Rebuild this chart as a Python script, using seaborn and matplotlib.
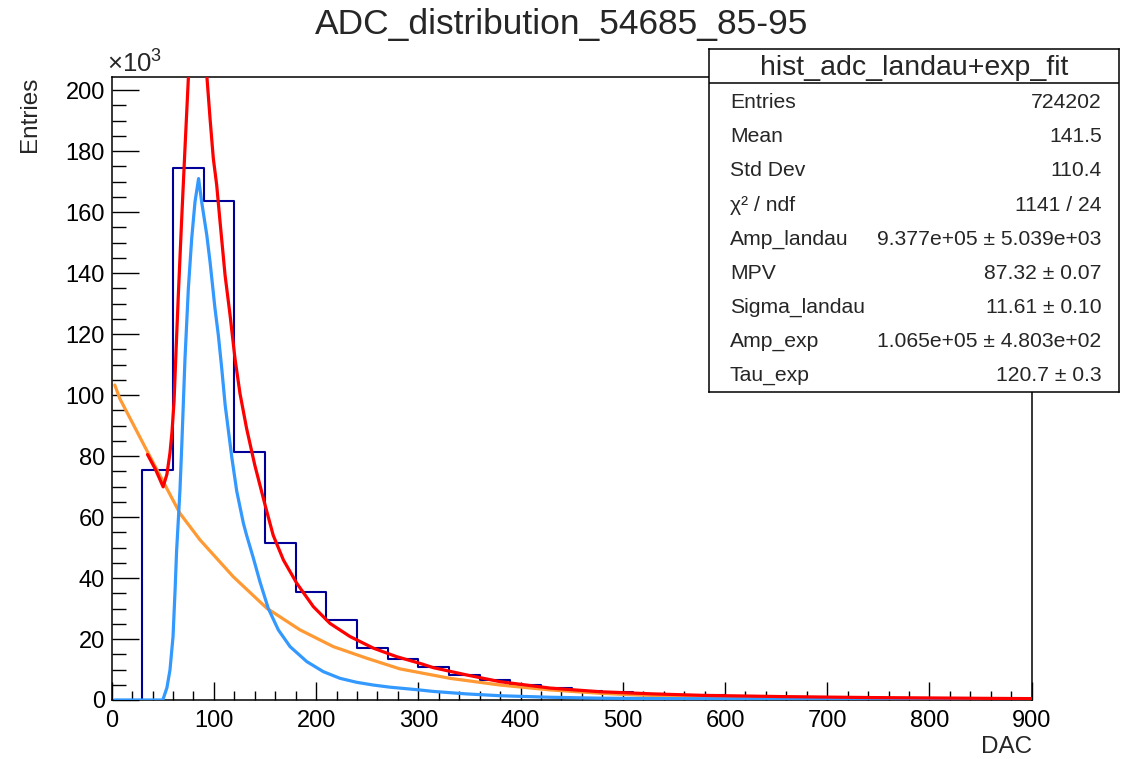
import numpy as np
import pandas as pd
import matplotlib
matplotlib.use("Agg")
import matplotlib.pyplot as plt
from matplotlib.ticker import MultipleLocator
import seaborn as sns

# ---------------- data ----------------
title = "ADC_distribution_54685_85-95"
x_label = "DAC"
y_label = "Entries"

bin_edges = list(range(0, 901, 30))
hist_counts_k = [0.0, 75.4, 174.6, 163.8, 81.3, 51.6, 35.3, 26.2, 16.9, 13.3,
                 10.7, 8.2, 6.5, 4.9, 4.0, 3.0, 2.6, 2.1, 1.8, 1.5,
                 1.3, 1.1, 0.9, 0.8, 0.7, 0.6, 0.5, 0.5, 0.4, 0.4]

landau_x = [3, 50, 54, 57, 60, 62, 63.5, 65, 66.8, 68.5, 70, 71.7, 75, 78.3, 81.5,
            85, 88, 93, 96.2, 101, 104.3, 107.6, 111, 117.4, 122.3, 128.8, 132,
            138.6, 145, 153.2, 163, 174.5, 190.8, 207, 223.4, 239.7, 256, 272.3,
            298, 315, 347, 380, 429, 478, 517, 580, 650, 720, 800, 900]
landau_y = [0, 0, 4, 9.8, 20.8, 36, 49, 58, 69, 83, 96.5, 112, 135, 151.5, 163.4,
            171, 163.4, 152.5, 143.7, 128.5, 119.7, 108.9, 96.7, 79.8, 68.5, 58, 54,
            46.5, 38.8, 30, 23, 17.5, 12.6, 9.3, 7.1, 5.8, 4.9, 4.2,
            3.4, 2.8, 2.0, 1.4, 0.9, 0.6, 0.5, 0.4, 0.35, 0.3, 0.25, 0.2]

exp_x = [3, 8, 37.5, 66.8, 86.4, 119, 151.7, 184.2, 216.8, 249.5, 282, 331, 380,
         429, 478, 517, 580, 640, 700, 760, 830, 900]
exp_y = [103.3, 98.8, 79.8, 61.2, 52.5, 40.4, 30.1, 23, 17.5, 13.7, 10.2, 7.1, 4.9,
         3.3, 2.2, 1.6, 1.1, 0.65, 0.45, 0.3, 0.2, 0.1]

total_x = [35, 43, 50.3, 54, 57, 59, 61, 63, 65.2, 68.5, 71.7, 75, 80, 85, 90, 93,
           96.2, 99.4, 102.7, 106, 110.9, 115.8, 120.6, 125.5, 132, 140, 145, 150,
           158, 168, 181, 197.3, 213.6, 233.2, 256, 278.8, 301.7, 314.7, 347.4,
           380, 429, 478, 530, 580, 660, 743, 852, 900]
total_y = [80.5, 75.5, 69.9, 74, 81, 88, 98, 115, 133, 158, 181, 204, 218, 222, 214, 205,
           190.7, 177.6, 168.9, 156.8, 139.3, 126.2, 112, 100.5, 89, 77, 70.5, 64,
           54, 45.9, 38.3, 30.6, 25.1, 20.8, 17, 14.2, 12.0, 10.6, 8.2,
           6.0, 3.9, 2.7, 2.0, 1.5, 1.1, 0.8, 0.55, 0.45]

stats_title = "hist_adc_landau+exp_fit"
stats_names = ["Entries", "Mean", "Std Dev", "\u03c7\u00b2 / ndf", "Amp_landau",
               "MPV", "Sigma_landau", "Amp_exp", "Tau_exp"]
stats_values = ["724202", "141.5", "110.4", "1141 / 24",
                "9.377e+05 \u00b1 5.039e+03", "87.32 \u00b1 0.07",
                "11.61 \u00b1 0.10", "1.065e+05 \u00b1 4.803e+02", "120.7 \u00b1 0.3"]

# ---------------- style ----------------
sns.set_style("ticks")
plt.rcParams["font.family"] = ["Liberation Sans", "DejaVu Sans"]
plt.rcParams["mathtext.fontset"] = "custom"
plt.rcParams["mathtext.rm"] = "Liberation Sans"

W, H = 1122, 759
def fx(px):
    return px / W
def fy(py):
    return 1 - py / H

NAVY = "#000099"
LBLUE = "#3399ff"
ORANGE = "#ff9933"
RED = "#ff0000"

fig = plt.figure(figsize=(W / 100, H / 100), dpi=100, facecolor="white")
ax_l, ax_r, ax_t, ax_b = 111.7, 1031.7, 76.7, 700.0
ax = fig.add_axes([fx(ax_l), fy(ax_b), (ax_r - ax_l) / W, (ax_b - ax_t) / H])
ax.set_facecolor("white")

centers = [(bin_edges[i] + bin_edges[i + 1]) / 2 for i in range(len(hist_counts_k))]
hist_df = pd.DataFrame({"x": centers, "w": hist_counts_k})
sns.histplot(data=hist_df, x="x", weights="w", bins=bin_edges, element="step",
             fill=False, color=NAVY, linewidth=1.5, ax=ax, zorder=2)

sns.lineplot(x=exp_x, y=exp_y, color=ORANGE, linewidth=2.3, ax=ax, sort=False,
             estimator=None, zorder=3)
sns.lineplot(x=landau_x, y=landau_y, color=LBLUE, linewidth=2.3, ax=ax, sort=False,
             estimator=None, zorder=4)
sns.lineplot(x=total_x, y=total_y, color=RED, linewidth=2.3, ax=ax, sort=False,
             estimator=None, zorder=5)

ax.set_xlim(0, 900)
ax.set_ylim(0, 204.4)
ax.xaxis.set_major_locator(MultipleLocator(100))
ax.xaxis.set_minor_locator(MultipleLocator(20))
ax.yaxis.set_major_locator(MultipleLocator(20))
ax.yaxis.set_minor_locator(MultipleLocator(5))
ax.tick_params(axis="both", which="both", direction="in", top=False, right=False,
               color="black", width=1.0, labelsize=17, labelcolor="black")
ax.tick_params(axis="y", which="major", length=19.5, pad=5.0)
ax.tick_params(axis="y", which="minor", length=10)
ax.tick_params(axis="x", which="major", length=13, pad=7)
ax.tick_params(axis="x", which="minor", length=6.5)
for s in ax.spines.values():
    s.set_visible(True)
    s.set_color("black")
    s.set_linewidth(1.1)

ax.set_xlabel(x_label, fontsize=17.5, loc="right")
ax.xaxis.set_label_coords(1.0, -0.057)
ax.set_ylabel(y_label, fontsize=17.5, loc="top")
ax.yaxis.set_label_coords(-0.077, 1.0)

fig.text(fx(107), fy(73), r"$\mathregular{\times10^{3}}$", fontsize=18.5,
         ha="left", va="baseline")
fig.text(fx(562), fy(34.4), title, fontsize=25.5, ha="center", va="baseline")

# ---------------- stats box ----------------
bx_l, bx_r, bx_t, bx_b = 709, 1119, 49.3, 392.3
sax = fig.add_axes([fx(bx_l), fy(bx_b), (bx_r - bx_l) / W, (bx_b - bx_t) / H],
                   zorder=10)
sax.set_facecolor("white")
sax.set_xticks([])
sax.set_yticks([])
sax.set_xlim(0, 1)
sax.set_ylim(0, 1)
for s in sax.spines.values():
    s.set_visible(True)
    s.set_color("black")
    s.set_linewidth(1.1)
sep = (bx_b - 82.7) / (bx_b - bx_t)
sax.axhline(sep, color="black", linewidth=1.1)

fig.text(fx((bx_l + bx_r) / 2), fy(75), stats_title, fontsize=20.5, ha="center",
         va="baseline", zorder=11)
row_base = 108.3
row_step = 34.1
for i, (n, v) in enumerate(zip(stats_names, stats_values)):
    yb = row_base + i * row_step
    fig.text(fx(730), fy(yb), n, fontsize=15.2, ha="left", va="baseline", zorder=11)
    fig.text(fx(1101.7), fy(yb), v, fontsize=15.2, ha="right", va="baseline", zorder=11)

fig.savefig("out.png", dpi=100, facecolor="white")
